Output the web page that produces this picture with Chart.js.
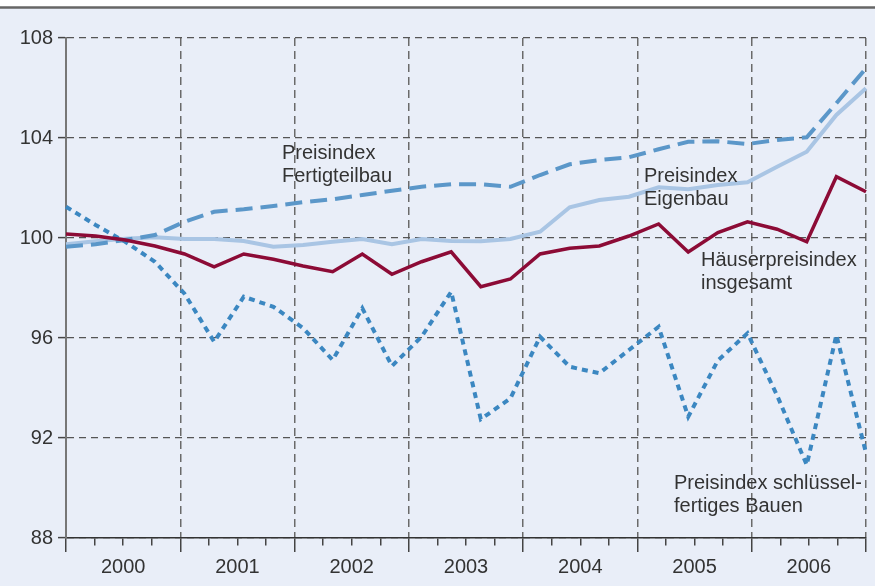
<!DOCTYPE html>
<html>
<head>
<meta charset="utf-8">
<script src="https://cdn.jsdelivr.net/npm/chart.js@4/dist/chart.umd.min.js"></script>
<style>
  html, body { margin: 0; padding: 0; background: #ffffff; }
  #wrap { width: 875px; height: 586px; position: relative; }
  canvas { display: block; }
</style>
</head>
<body>
<div id="wrap"><canvas id="c" width="875" height="586"></canvas></div>
<script>
// Quarterly categories 2000 Q1 .. 2006 Q4
const years = ["2000", "2001", "2002", "2003", "2004", "2005", "2006"];
const quarters = [];
years.forEach(y => { for (let q = 1; q <= 4; q++) quarters.push(y + "-Q" + q); });

const yTicks = [88, 92, 96, 100, 104, 108];

// Series values (index, 2000 = 100)
const haeuserInsgesamt = [100.16, 100.08, 99.92, 99.68, 99.36, 98.85, 99.36, 99.15,
  98.88, 98.65, 99.36, 98.55, 99.05, 99.45, 98.05, 98.36,
  99.36, 99.59, 99.68, 100.08, 100.56, 99.44, 100.22, 100.65,
  100.35, 99.85, 102.45, 101.85];

const eigenbau = [99.75, 99.87, 99.97, 100.03, 99.96, 99.96, 99.88, 99.65,
  99.72, 99.85, 99.96, 99.75, 99.96, 99.88, 99.87, 99.96,
  100.25, 101.23, 101.52, 101.65, 102.03, 101.95, 102.12, 102.23,
  102.85, 103.45, 104.92, 105.99];

const fertigteilbau = [99.65, 99.75, 99.92, 100.12, 100.65, 101.05, 101.15, 101.28,
  101.43, 101.55, 101.72, 101.89, 102.05, 102.15, 102.15, 102.05,
  102.52, 102.95, 103.12, 103.23, 103.55, 103.85, 103.87, 103.76,
  103.92, 104.03, 105.39, 106.79];

const schluesselfertig = [101.25, 100.52, 99.85, 99.05, 97.77, 95.85, 97.65, 97.25,
  96.4, 95.12, 97.19, 94.88, 96.05, 97.85, 92.75, 93.59,
  96.05, 94.85, 94.59, 95.52, 96.45, 92.85, 95.1, 96.19,
  93.7, 90.92, 96.12, 91.4];

// Text labels in the plot
const annotations = [
  { lines: ["Preisindex", "Fertigteilbau"], x: 282, y: 153 },
  { lines: ["Preisindex", "Eigenbau"], x: 644, y: 176 },
  { lines: ["Häuserpreisindex", "insgesamt"], x: 701, y: 260 },
  { lines: ["Preisindex schlüssel-", "fertiges Bauen"], x: 674, y: 483 }
];

const FONT = "'Liberation Sans', Arial, sans-serif";
const TEXT = "#333333";

const bgPlugin = {
  id: "bg",
  beforeDraw(chart) {
    const ctx = chart.ctx;
    ctx.save();
    ctx.fillStyle = "#ffffff";
    ctx.fillRect(0, 0, chart.width, chart.height);
    ctx.fillStyle = "#e9eef8";
    ctx.fillRect(0, 8, chart.width, chart.height - 8);
    ctx.strokeStyle = "#666666";
    ctx.lineWidth = 2.5;
    ctx.beginPath();
    ctx.moveTo(0, 7.5);
    ctx.lineTo(chart.width, 7.5);
    ctx.stroke();
    ctx.restore();
  }
};

const textPlugin = {
  id: "texts",
  afterDatasetsDraw(chart) {
    const ctx = chart.ctx;
    ctx.save();
    ctx.font = "20px " + FONT;
    ctx.fillStyle = TEXT;
    ctx.textAlign = "left";
    ctx.textBaseline = "middle";
    annotations.forEach(a => {
      a.lines.forEach((t, k) => ctx.fillText(t, a.x, a.y + k * 23));
    });
    ctx.restore();
  }
};

new Chart(document.getElementById("c"), {
  type: "line",
  data: {
    labels: quarters,
    datasets: [
      { label: "Häuserpreisindex insgesamt", data: haeuserInsgesamt, borderColor: "#8c0b36",
        borderWidth: 3.5, order: 0 },
      { label: "Preisindex schlüsselfertiges Bauen", data: schluesselfertig, borderColor: "#3b87c1",
        borderWidth: 4, borderDash: [6, 5], order: 1 },
      { label: "Preisindex Fertigteilbau", data: fertigteilbau, borderColor: "#5b97c9",
        borderWidth: 4, borderDash: [17, 8], order: 2 },
      { label: "Preisindex Eigenbau", data: eigenbau, borderColor: "#a9c5e4",
        borderWidth: 4, order: 3 }
    ].map(d => Object.assign({ pointRadius: 0, tension: 0, fill: false,
      borderJoinStyle: "miter", borderCapStyle: "butt" }, d))
  },
  options: {
    responsive: false,
    animation: false,
    events: [],
    layout: { padding: { top: 38, right: 9, left: 0, bottom: 0 } },
    plugins: { legend: { display: false }, tooltip: { enabled: false } },
    scales: {
      x: { type: "category", offset: false, display: false },
      xYears: {
        type: "linear", position: "bottom", min: 0, max: quarters.length,
        afterFit(scale) { scale.height = 48; },
        ticks: {
          stepSize: 1, autoSkip: false, maxRotation: 0, includeBounds: true,
          padding: 3, color: TEXT, font: { family: FONT, size: 20 },
          callback(v) { return (v % 4 === 2) ? years[(v - 2) / 4] : ""; }
        },
        grid: {
          drawOnChartArea: true,
          color: c => (c.tick && c.tick.value % 4 === 0) ? "#6a6a6a" : "rgba(0,0,0,0)",
          lineWidth: 1.5,
          tickLength: 14,
          tickWidth: 1.5,
          tickColor: "#444444",
          tickBorderDash: c => (c.tick && c.tick.value % 4 === 0) ? [] : [7, 30]
        },
        border: { display: true, color: "#333333", width: 1.5, dash: [8, 5] }
      },
      y: {
        min: 88, max: 108,
        afterFit(scale) { scale.width = 66; },
        afterBuildTicks(scale) { scale.ticks = yTicks.map(v => ({ value: v })); },
        ticks: { padding: 5, color: TEXT, font: { family: FONT, size: 20 } },
        grid: {
          color: "#555555", lineWidth: 1.2, tickLength: 8,
          tickColor: "#444444", tickWidth: 1.5, tickBorderDash: []
        },
        border: { display: true, color: "#777777", width: 2, dash: [7, 5] }
      }
    }
  },
  plugins: [bgPlugin, textPlugin]
});
</script>
</body>
</html>
